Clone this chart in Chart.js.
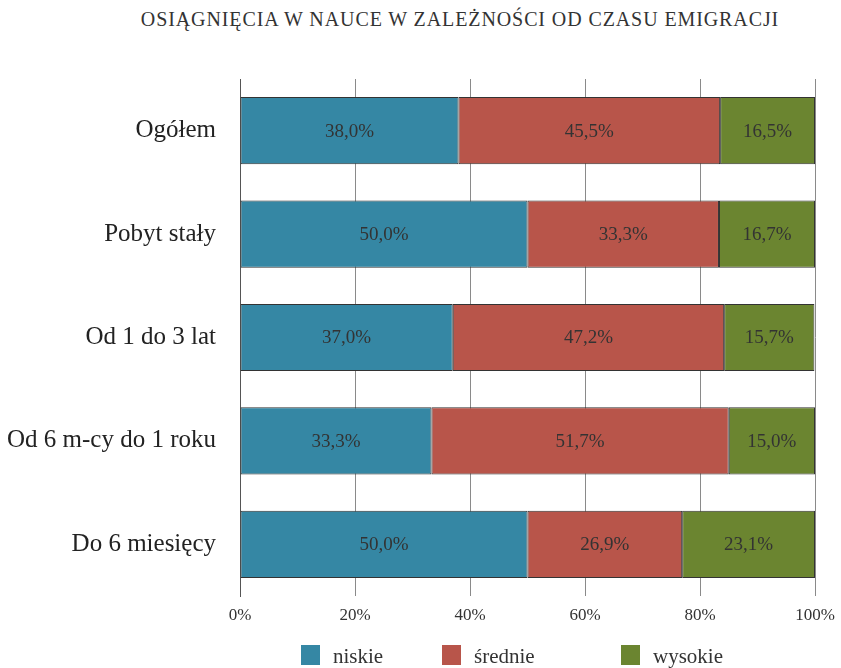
<!DOCTYPE html>
<html><head><meta charset="utf-8">
<script src="https://cdn.jsdelivr.net/npm/chart.js@4/dist/chart.umd.min.js"></script>
<style>
html,body{margin:0;padding:0;background:#fff;}
#wrap{position:relative;width:841px;height:668px;}
#title{position:absolute;top:8px;left:0;width:920px;text-align:center;font-family:"Liberation Serif",serif;font-size:20px;color:#333;letter-spacing:0.9px;}
#legend{position:absolute;top:641px;left:0;width:841px;height:27px;font-family:"Liberation Serif",serif;font-size:21px;color:#333;}
.li{position:absolute;top:0;white-space:nowrap;}
.li .box{position:absolute;top:4px;left:0;width:19px;height:20px;}
.li .tx{position:absolute;left:32px;top:3px;}
canvas{position:absolute;left:0;top:0;}
</style></head>
<body><div id="wrap"><div id="title">OSIĄGNIĘCIA W NAUCE W ZALEŻNOŚCI OD CZASU EMIGRACJI</div><canvas id="c" width="841" height="668"></canvas><div id="legend"></div></div>
<script>
const categories = ["Ogółem", "Pobyt stały", "Od 1 do 3 lat", "Od 6 m-cy do 1 roku", "Do 6 miesięcy"];
const seriesNames = ["niskie", "średnie", "wysokie"];
const niskie = [38.0, 50.0, 37.0, 33.3, 50.0];
const srednie = [45.5, 33.3, 47.2, 51.7, 26.9];
const wysokie = [16.5, 16.7, 15.7, 15.0, 23.1];
const xTicks = [0, 20, 40, 60, 80, 100];
const colors = ["#3587A4", "#B8554A", "#6B8530"];

const serif = '"Liberation Serif", serif';
const fmt = v => v.toFixed(1).replace('.', ',') + '%';

const labelPlugin = {
  id: 'barLabels',
  afterDatasetsDraw(chart) {
    const ctx = chart.ctx;
    ctx.save();
    ctx.font = '19px ' + serif;
    ctx.fillStyle = '#333';
    ctx.textAlign = 'center';
    ctx.textBaseline = 'middle';
    chart.data.datasets.forEach((ds, di) => {
      const meta = chart.getDatasetMeta(di);
      meta.data.forEach((el, i) => {
        const x = (el.x + el.base) / 2;
        ctx.fillText(fmt(ds.data[i]), x, el.y + 1);
      });
    });
    ctx.restore();
  }
};

const data = {
  labels: categories,
  datasets: [niskie, srednie, wysokie].map((d, i) => ({
    label: seriesNames[i],
    data: d,
    backgroundColor: colors[i],
    borderColor: '#333',
    borderWidth: 1,
    borderSkipped: false,
    barPercentage: 0.65,
    categoryPercentage: 1.0
  }))
};

new Chart(document.getElementById('c'), {
  type: 'bar',
  data,
  plugins: [labelPlugin],
  options: {
    indexAxis: 'y',
    responsive: false,
    animation: false,
    layout: { padding: { top: 79, right: 26, left: 0, bottom: 0 } },
    plugins: { legend: { display: false }, title: { display: false }, tooltip: { enabled: false } },
    scales: {
      x: {
        stacked: true, min: 0, max: 100,
        afterBuildTicks: s => { s.ticks = xTicks.map(v => ({ value: v })); },
        afterFit: s => { s.height = 72; s.paddingRight = 0; s.paddingLeft = 0; },
        grid: { color: '#8a8a8a', lineWidth: 1, drawTicks: false },
        border: { display: false },
        ticks: { padding: 9, color: '#333', font: { family: serif, size: 17 }, callback: v => v + '%' }
      },
      y: {
        stacked: true,
        afterFit: s => { s.width = 240; s.paddingTop = 0; s.paddingBottom = 0; },
        grid: { display: false, drawTicks: false },
        border: { display: true, color: '#555' },
        ticks: { padding: 24, color: '#222', font: { family: serif, size: 25 } }
      }
    }
  }
});

const legendPos = [301, 442, 621];
const lg = document.getElementById('legend');
seriesNames.forEach((n, i) => {
  const d = document.createElement('div');
  d.className = 'li';
  d.style.left = legendPos[i] + 'px';
  d.innerHTML = '<span class="box" style="background:' + colors[i] + '"></span><span class="tx">' + n + '</span>';
  lg.appendChild(d);
});
</script></body></html>
